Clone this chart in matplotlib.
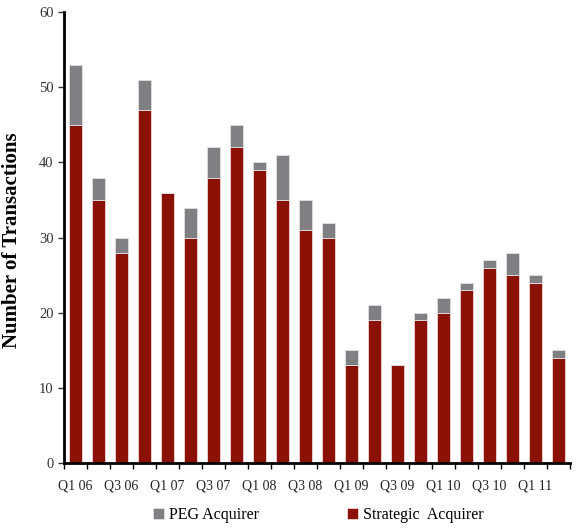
import matplotlib
matplotlib.use("Agg")
import matplotlib.pyplot as plt
import numpy as np

quarters = ["Q1 06", "Q2 06", "Q3 06", "Q4 06", "Q1 07", "Q2 07", "Q3 07", "Q4 07",
            "Q1 08", "Q2 08", "Q3 08", "Q4 08", "Q1 09", "Q2 09", "Q3 09", "Q4 09",
            "Q1 10", "Q2 10", "Q3 10", "Q4 10", "Q1 11", "Q2 11"]
strategic = [45, 35, 28, 47, 36, 30, 38, 42, 39, 35, 31, 30, 13, 19, 13, 19, 20, 23, 26, 25, 24, 14]
totals = [53, 38, 30, 51, 36, 34, 42, 45, 40, 41, 35, 32, 15, 21, 13, 20, 22, 24, 27, 28, 25, 15]
peg = [t - s for t, s in zip(totals, strategic)]
yticks = [0, 10, 20, 30, 40, 50, 60]

plt.rcParams['font.family'] = ['Liberation Serif', 'DejaVu Serif']

fig = plt.figure(figsize=(5.84, 5.31), dpi=100)
ax = fig.add_axes([0.1096, 0.128, 0.866, 0.849])

x = np.arange(len(quarters))
red = "#8B1106"
gray = "#808084"
b1 = ax.bar(x, strategic, width=0.55, color=red, edgecolor="#f0d8d8", linewidth=0.6, label="Strategic  Acquirer")
b2 = ax.bar(x, peg, bottom=strategic, width=0.55, color=gray, edgecolor="#e0e0e0", linewidth=0.6, label="PEG Acquirer")

ax.set_xlim(-0.5, len(quarters) - 0.5)
ax.set_ylim(0, 60)
ax.set_yticks(yticks)
ax.tick_params(axis='y', direction='out', length=4, width=1, labelsize=10.5, colors='#333333', labelcolor='#333333')
ax.set_xticks(x[::2])
ax.set_xticklabels(quarters[::2], fontsize=10, color='#222222')
ax.tick_params(axis='x', which='major', length=0, pad=12)
ax.set_xticks(np.arange(-0.5, len(quarters), 1), minor=True)
ax.tick_params(axis='x', which='minor', direction='out', length=4, width=1)

for s in ['top', 'right']:
    ax.spines[s].set_visible(False)
for s in ['left', 'bottom']:
    ax.spines[s].set_linewidth(2)
    ax.spines[s].set_color('black')

ax.set_ylabel("Number of Transactions", fontsize=15, fontweight='bold')
ax.yaxis.set_label_coords(-0.083, 0.495)

fig.legend(handles=[b2, b1], labels=["PEG Acquirer", "Strategic  Acquirer"],
           loc='lower center', bbox_to_anchor=(0.545, -0.012), ncol=2, frameon=False,
           fontsize=11.5, handlelength=0.7, handleheight=0.7, handletextpad=0.3, columnspacing=5.5)

fig.savefig("out.png", dpi=100)
